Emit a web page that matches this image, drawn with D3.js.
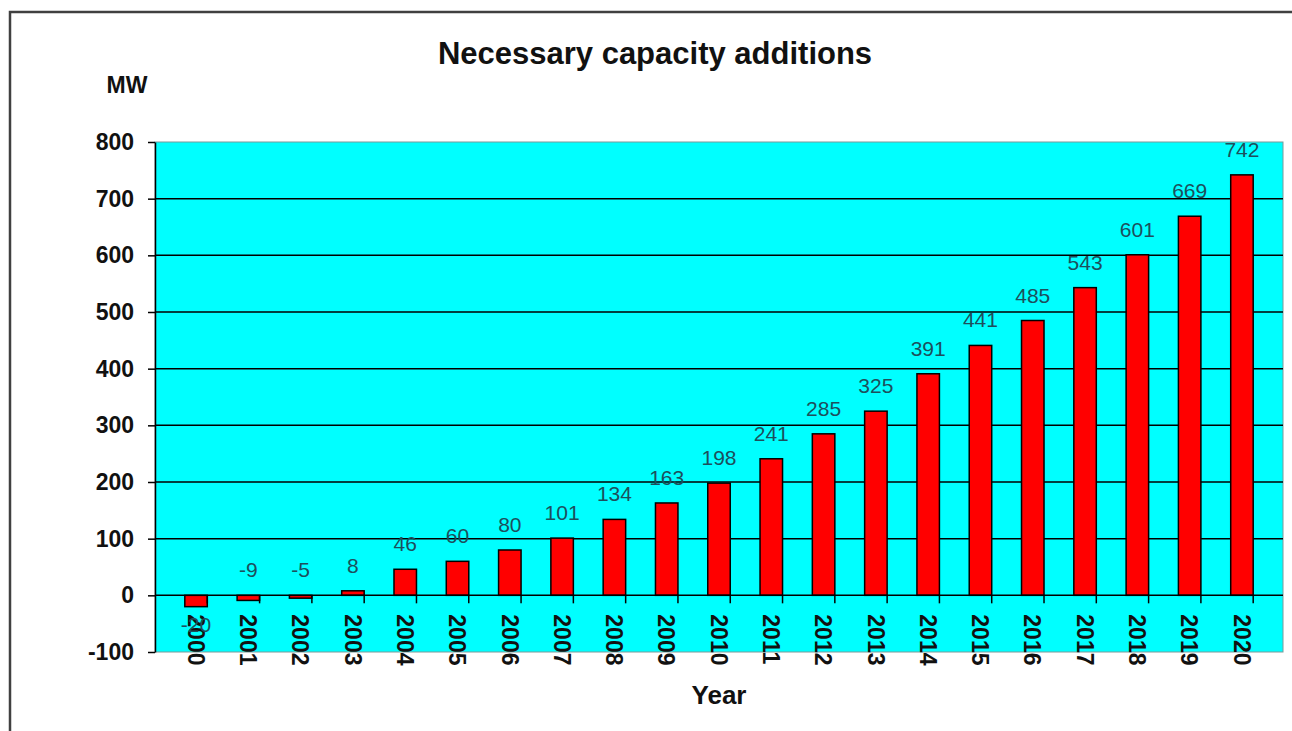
<!DOCTYPE html>
<html>
<head>
<meta charset="utf-8">
<script src="https://cdn.jsdelivr.net/npm/d3@7"></script>
<style>
  body { margin: 0; background: #fff; }
  svg { display: block; font-family: Arial, "Liberation Sans", sans-serif; }
</style>
</head>
<body>
<div id="chart"></div>
<script>
const years = ["2000","2001","2002","2003","2004","2005","2006","2007","2008","2009","2010",
               "2011","2012","2013","2014","2015","2016","2017","2018","2019","2020"]
const additions = [-20, -9, -5, 8, 46, 60, 80, 101, 134, 163, 198,
                   241, 285, 325, 391, 441, 485, 543, 601, 669, 742]
const yTicks = [-100, 0, 100, 200, 300, 400, 500, 600, 700, 800]

const width = 1292
const height = 731
const plot = { left: 155, right: 1283, top: 142, bottom: 652 }

const svg = d3.select('#chart')
  .append('svg')
  .attr('width', width)
  .attr('height', height)

// outer frame (runs off the right and bottom edges)
svg.append('rect')
  .attr('x', 10).attr('y', 12)
  .attr('width', width + 20).attr('height', height + 20)
  .attr('fill', '#fff')
  .attr('stroke', '#404040')
  .attr('stroke-width', 2.5)

const x = d3.scaleBand()
  .domain(years)
  .range([plot.left, plot.right])
  .padding(0.57)

const y = d3.scaleLinear()
  .domain([-100, 800])
  .range([plot.bottom, plot.top])

// plot area
svg.append('rect')
  .attr('x', plot.left).attr('y', plot.top)
  .attr('width', plot.right - plot.left)
  .attr('height', plot.bottom - plot.top)
  .attr('fill', '#00ffff')
  .attr('stroke', '#7a9a9a')
  .attr('stroke-width', 1)

// gridlines
svg.append('g')
  .selectAll('line')
  .data(yTicks.filter(d => d > 0 && d < 800))
  .join('line')
  .attr('x1', plot.left).attr('x2', plot.right)
  .attr('y1', d => y(d)).attr('y2', d => y(d))
  .attr('stroke', '#000')
  .attr('stroke-width', 1.5)

// bars
svg.append('g')
  .selectAll('rect')
  .data(additions)
  .join('rect')
  .attr('x', (d, i) => x(years[i]))
  .attr('width', x.bandwidth())
  .attr('y', d => y(Math.max(d, 0)))
  .attr('height', d => Math.abs(y(d) - y(0)))
  .attr('fill', '#ff0000')
  .attr('stroke', '#000')
  .attr('stroke-width', 1.5)

// y axis
const yAxis = d3.axisLeft(y)
  .tickValues(yTicks)
  .tickFormat(d => String(d))
  .tickSizeInner(7)
  .tickSizeOuter(0)
  .tickPadding(14)

const yg = svg.append('g')
  .attr('transform', `translate(${plot.left},0)`)
  .call(yAxis)
yg.select('.domain').attr('stroke', '#000').attr('stroke-width', 1.5)
yg.selectAll('.tick line').attr('stroke', '#000').attr('stroke-width', 1.5)
yg.selectAll('.tick text')
  .attr('fill', '#111')
  .style('font-size', '23px')
  .style('font-weight', 'bold')
  .style('font-family', 'Arial, "Liberation Sans", sans-serif')

// x axis on the zero line, ticks between categories
const xg = svg.append('g')
  .attr('transform', `translate(0,${y(0)})`)
xg.append('line')
  .attr('x1', plot.left).attr('x2', plot.right)
  .attr('stroke', '#000').attr('stroke-width', 1.5)
xg.selectAll('.tk')
  .data(years.slice(1).concat(['end']))
  .join('line')
  .attr('class', 'tk')
  .attr('x1', (d, i) => plot.left + (i + 1) * x.step())
  .attr('x2', (d, i) => plot.left + (i + 1) * x.step())
  .attr('y1', 0).attr('y2', 8)
  .attr('stroke', '#000').attr('stroke-width', 1.5)
xg.selectAll('.yr')
  .data(years)
  .join('text')
  .attr('class', 'yr')
  .attr('transform', d => `translate(${x(d) + x.bandwidth() / 2},19) rotate(90)`)
  .attr('dy', '0.36em')
  .attr('text-anchor', 'start')
  .attr('fill', '#111')
  .style('font-size', '23px')
  .style('font-weight', 'bold')
  .text(d => d)

// data labels
svg.append('g')
  .selectAll('text')
  .data(additions)
  .join('text')
  .attr('x', (d, i) => x(years[i]) + x.bandwidth() / 2)
  .attr('y', d => d < -10 ? y(d) + 25 : y(Math.max(d, 0)) - 18)
  .attr('text-anchor', 'middle')
  .attr('fill', '#1d4f5c')
  .style('font-size', '21px')
  .text(d => d)

// titles
svg.append('text')
  .attr('x', 655).attr('y', 64)
  .attr('text-anchor', 'middle')
  .attr('fill', '#111')
  .style('font-size', '31px')
  .style('font-weight', 'bold')
  .text('Necessary capacity additions')

svg.append('text')
  .attr('x', 127).attr('y', 93)
  .attr('text-anchor', 'middle')
  .attr('fill', '#111')
  .style('font-size', '23px')
  .style('font-weight', 'bold')
  .text('MW')

svg.append('text')
  .attr('x', 719).attr('y', 704)
  .attr('text-anchor', 'middle')
  .attr('fill', '#111')
  .style('font-size', '26px')
  .style('font-weight', 'bold')
  .text('Year')
</script>
</body>
</html>
